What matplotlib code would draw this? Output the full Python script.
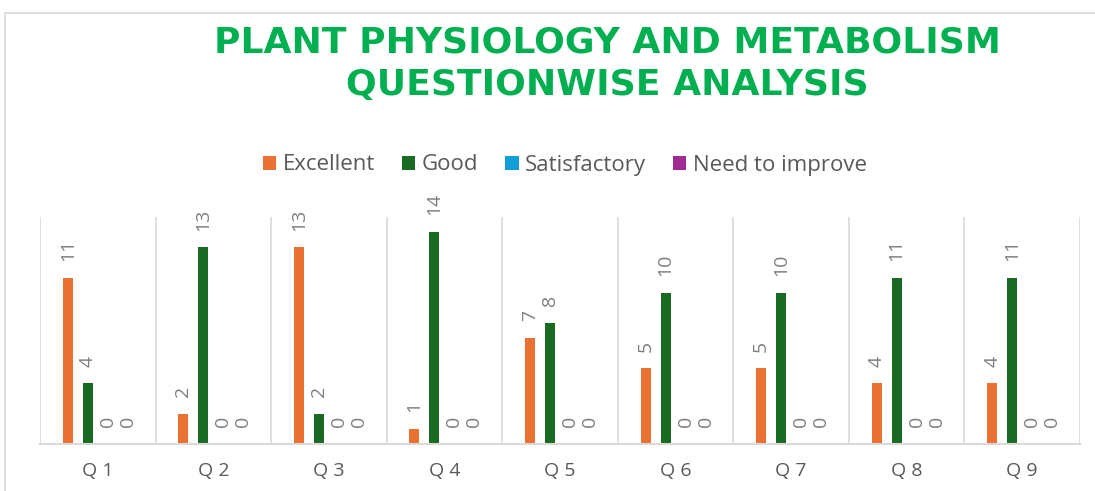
import numpy as np
import matplotlib.pyplot as plt
from matplotlib.patches import Rectangle

questions = ["Q 1", "Q 2", "Q 3", "Q 4", "Q 5", "Q 6", "Q 7", "Q 8", "Q 9"]
series_names = ["Excellent", "Good", "Satisfactory", "Need to improve"]
excellent = [11, 2, 13, 1, 7, 5, 5, 4, 4]
good = [4, 13, 2, 14, 8, 10, 10, 11, 11]
satisfactory = [0, 0, 0, 0, 0, 0, 0, 0, 0]
need_improve = [0, 0, 0, 0, 0, 0, 0, 0, 0]
colors = ["#E97132", "#196B24", "#0F9ED5", "#A02B93"]

W, H = 1095, 491
fig = plt.figure(figsize=(W / 100, H / 100), dpi=100)

# chart border
fig.patches.append(Rectangle((5 / W, -0.1), 1.2, (H - 13) / H + 0.1,
                             transform=fig.transFigure, fill=False,
                             edgecolor="#d9d9d9", linewidth=1.2))

ax = fig.add_axes([40 / W, 47 / H, 1040 / W, 227 / H])
x = np.arange(len(questions))
step = 0.173
width = 0.087
all_series = [excellent, good, satisfactory, need_improve]
for k, (vals, name, c) in enumerate(zip(all_series, series_names, colors)):
    pos = x + (k - 1.5) * step
    bars = ax.bar(pos, vals, width, color=c, label=name)
    for b, v in zip(bars, vals):
        ax.annotate(str(v), (b.get_x() + b.get_width() / 2, v),
                    xytext=(0, 12), textcoords="offset points",
                    rotation=90, ha="center", va="bottom",
                    fontsize=14, color="#7f7f7f", family="Open Sans")

ax.set_xlim(-0.5, len(questions) - 0.5)
ax.set_ylim(0, 15)
ax.set_yticks([])
ax.set_xticks(x)
ax.set_xticklabels(questions, fontsize=14, color="#595959", family="Open Sans")
ax.tick_params(axis="x", length=0, pad=13)
for b in np.arange(-0.5, len(questions), 1):
    ax.axvline(b, color="#d9d9d9", linewidth=1.2, zorder=0)
for s in ["top", "left", "right"]:
    ax.spines[s].set_visible(False)
ax.spines["bottom"].set_color("#d9d9d9")
ax.spines["bottom"].set_linewidth(1.5)

fig.text(607 / W, 1 - 64 / H, "PLANT PHYSIOLOGY AND METABOLISM\nQUESTIONWISE ANALYSIS",
         ha="center", va="center", fontsize=26, fontweight="heavy",
         color="#00B050", family="DejaVu Sans", linespacing=1.32)

fig.legend(loc="center", bbox_to_anchor=(565 / W, 1 - 165 / H), ncol=4,
           frameon=False, handlelength=0.6, handleheight=0.6, handletextpad=0.3,
           columnspacing=1.2, prop={"family": "Open Sans", "size": 16},
           labelcolor="#595959")

fig.savefig("out.png", dpi=100)
